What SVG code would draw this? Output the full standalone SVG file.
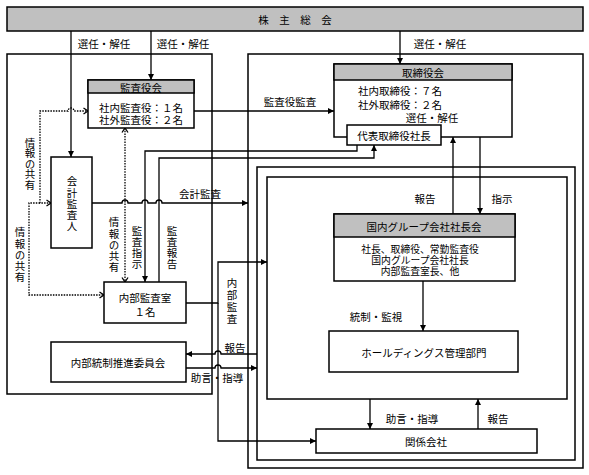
<svg xmlns="http://www.w3.org/2000/svg" width="589" height="475" viewBox="0 0 589 475">
<style>
text{font-family:"Noto Sans CJK JP","Noto Sans CJK SC",sans-serif;font-size:10.5px;fill:#000;text-anchor:middle;dominant-baseline:central}
.sm{font-size:9.8px}
.v{writing-mode:vertical-rl;letter-spacing:0.6px}
.box{fill:#fff;stroke:#000;stroke-width:1.5}
.frame{fill:none;stroke:#000;stroke-width:1.5}
.hdr{fill:#c0c0c0;stroke:#000;stroke-width:1.5}
.ln{fill:none;stroke:#000;stroke-width:1.3}
.dot{fill:none;stroke:#000;stroke-width:1.3;stroke-dasharray:1.5 1.2}
</style>
<defs>
<marker id="ar" markerUnits="userSpaceOnUse" markerWidth="7" markerHeight="6" refX="6" refY="3" orient="auto-start-reverse"><path d="M0,0 L6,3 L0,6 z" fill="#000"/></marker>
<marker id="op" markerUnits="userSpaceOnUse" markerWidth="8" markerHeight="8" refX="5.5" refY="4" orient="auto-start-reverse"><path d="M1,1 L5.5,4 L1,7" fill="none" stroke="#000" stroke-width="1.3"/></marker>
</defs>

<g id="frames">
<rect class="frame" x="7" y="54" width="205" height="340"/>
<rect class="frame" x="248" y="54" width="335" height="414"/>
<rect class="frame" x="257" y="167" width="318" height="293"/>
<rect class="frame" x="267" y="177" width="300" height="222"/>
</g>

<g id="connectors">
<path class="ln" d="M71,31 V157" marker-end="url(#ar)"/>
<path class="ln" d="M151,31 V80" marker-end="url(#ar)"/>
<path class="ln" d="M400,31 V64" marker-end="url(#ar)"/>
<path class="ln" d="M194,111 H334" marker-end="url(#ar)"/>
<path class="ln" d="M397,112 V125" marker-end="url(#ar)"/>
<path class="ln" d="M357,145 V151 H145 V282" marker-end="url(#ar)"/>
<path class="ln" d="M159,282 V158 H374 V145" marker-end="url(#ar)"/>
<path class="ln" d="M453,214 V137" marker-end="url(#ar)"/>
<path class="ln" d="M480,137 V214" marker-end="url(#ar)"/>
<path class="ln" d="M92,203 H122 a3,3 0 0 1 6,0 H142 a3,3 0 0 1 6,0 H156 a3,3 0 0 1 6,0 H248" marker-end="url(#ar)"/>
<path class="ln" d="M186,303 H218 V262 H267" marker-end="url(#ar)"/>
<path class="ln" d="M218,303 V441 H316" marker-end="url(#ar)"/>
<path class="ln" d="M423,281 V331" marker-end="url(#ar)"/>
<path class="ln" d="M257,354 H221 a3,3 0 0 0 -6,0 H186" marker-end="url(#ar)"/>
<path class="ln" d="M186,368 H215 a3,3 0 0 1 6,0 H257" marker-end="url(#ar)"/>
<path class="ln" d="M370,399 V429" marker-end="url(#ar)"/>
<path class="ln" d="M478,429 V399" marker-end="url(#ar)"/>
<path class="dot" d="M51,203 H40 V111 H68 a3,3 0 0 1 6,0 H88" marker-start="url(#op)" marker-end="url(#op)"/>
<path class="dot" d="M40,203 H29 V295 H104" marker-end="url(#op)"/>
<path class="dot" d="M125,128 V282" marker-start="url(#op)" marker-end="url(#op)"/>
</g>

<g id="n-kabunushi">
<rect class="hdr" x="7" y="7" width="576" height="24"/>
<text x="295" y="19.5">株　主　総　会</text>
</g>

<g id="n-kansayakukai">
<rect class="box" x="88" y="80" width="106" height="48"/>
<rect class="hdr" x="88" y="80" width="106" height="13"/>
<text x="141" y="87">監査役会</text>
<text><tspan x="141" y="107">社内監査役：１名</tspan><tspan x="141" y="119">社外監査役：２名</tspan></text>
</g>

<g id="n-torishimariyakukai">
<rect class="box" x="334" y="64" width="178" height="73"/>
<rect class="hdr" x="334" y="64" width="178" height="16"/>
<text x="423" y="72">取締役会</text>
<text><tspan x="400" y="90">社内取締役：７名</tspan><tspan x="400" y="104">社外取締役：２名</tspan></text>
</g>

<g id="n-daihyo">
<rect class="box" x="347" y="125" width="94" height="20"/>
<text x="394" y="135">代表取締役社長</text>
</g>

<g id="n-kaikeikansanin">
<rect class="box" x="51" y="157" width="41" height="91"/>
<text class="v" x="72" y="204">会計監査人</text>
</g>

<g id="n-naibukansashitsu">
<rect class="box" x="104" y="282" width="82" height="41"/>
<text><tspan x="145" y="297">内部監査室</tspan><tspan x="145" y="311">１名</tspan></text>
</g>

<g id="n-naibutosei">
<rect class="box" x="51" y="342" width="135" height="40"/>
<text x="118" y="362">内部統制推進委員会</text>
</g>

<g id="n-kokunai">
<rect class="box" x="334" y="214" width="181" height="67"/>
<rect class="hdr" x="334" y="214" width="181" height="23"/>
<text x="424" y="226">国内グループ会社社長会</text>
<text class="sm"><tspan x="420" y="249">社長、取締役、常勤監査役</tspan><tspan x="420" y="260">国内グループ会社社長</tspan><tspan x="420" y="271">内部監査室長、他</tspan></text>
</g>

<g id="n-holdings">
<rect class="box" x="329" y="331" width="189" height="41"/>
<text x="424" y="352">ホールディングス管理部門</text>
</g>

<g id="n-kankeigaisha">
<rect class="box" x="316" y="429" width="221" height="24"/>
<text x="426" y="441">関係会社</text>
</g>

<g id="labels">
<text x="104" y="43">選任・解任</text>
<text x="183" y="43">選任・解任</text>
<text x="440" y="43">選任・解任</text>
<text x="290" y="101">監査役監査</text>
<text x="432" y="117">選任・解任</text>
<text x="200" y="193">会計監査</text>
<text x="425" y="198">報告</text>
<text x="502" y="198">指示</text>
<text x="376" y="316">統制・監視</text>
<text x="412" y="418">助言・指導</text>
<text x="498" y="418">報告</text>
<text x="235" y="347">報告</text>
<text x="217" y="377">助言・指導</text>
<text class="v" x="30" y="164" style="letter-spacing:0">情報の共有</text>
<text class="v" x="20" y="255">情報の共有</text>
<text class="v" x="114" y="245">情報の共有</text>
<text class="v" x="137" y="248">監査指示</text>
<text class="v" x="172" y="248">監査報告</text>
<text class="v" x="232" y="302" style="letter-spacing:1.5px">内部監査</text>
</g>
</svg>
